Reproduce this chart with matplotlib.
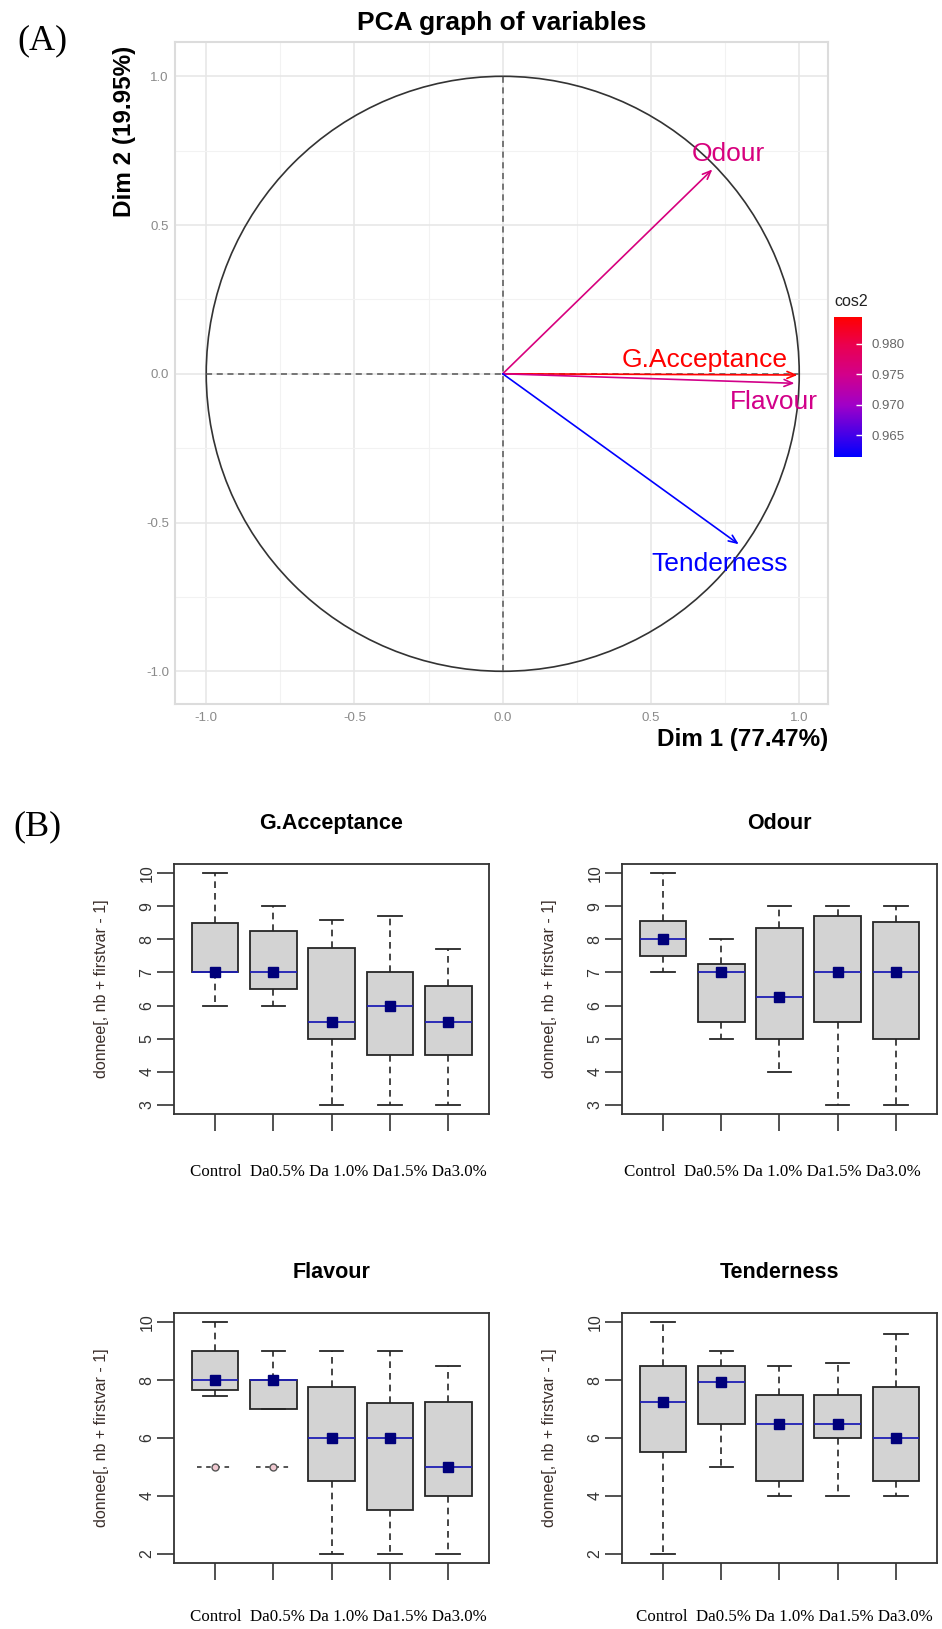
import numpy as np
import matplotlib
matplotlib.use("Agg")
import matplotlib.pyplot as plt
from matplotlib.colors import LinearSegmentedColormap, Normalize
from matplotlib.patches import Circle
import matplotlib.cm as cm

plt.rcParams['font.family'] = ['Liberation Sans', 'DejaVu Sans']

# ---------------- dados PCA ----------------
var_names = ['G.Acceptance', 'Odour', 'Flavour', 'Tenderness']
dim1 = [0.994, 0.707, 0.984, 0.796]
dim2 = [-0.004, 0.687, -0.032, -0.573]
cos2 = [0.9844, 0.9760, 0.9750, 0.9614]
lab_x = [0.680, 0.762, 0.916, 0.731]
lab_y = [0.047, 0.739, -0.096, -0.639]
cos2_ticks = [0.965, 0.970, 0.975, 0.980]

# ---------------- dados boxplot ----------------
groups = ['Control', 'Da0.5%', 'Da 1.0%', 'Da1.5%', 'Da3.0%']

acc_lo = [6, 6, 3, 3, 3]
acc_q1 = [7, 6.5, 5, 4.5, 4.5]
acc_med = [7, 7, 5.5, 6, 5.5]
acc_q3 = [8.5, 8.25, 7.75, 7, 6.6]
acc_hi = [10, 9, 8.6, 8.7, 7.7]
acc_pt = [7, 7, 5.5, 6, 5.5]

odo_lo = [7, 5, 4, 3, 3]
odo_q1 = [7.5, 5.5, 5, 5.5, 5]
odo_med = [8, 7, 6.25, 7, 7]
odo_q3 = [8.55, 7.25, 8.33, 8.7, 8.53]
odo_hi = [10, 8, 9, 9, 9]
odo_pt = [8, 7, 6.25, 7, 7]

fla_lo = [7.45, 7, 2, 2, 2]
fla_q1 = [7.67, 7, 4.5, 3.5, 4]
fla_med = [8, 8, 6, 6, 5]
fla_q3 = [9, 8, 7.75, 7.2, 7.25]
fla_hi = [10, 9, 9, 9, 8.5]
fla_pt = [8, 8, 6, 6, 5]
fla_out = [[5], [5], [], [], []]

ten_lo = [2, 5, 4, 4, 4]
ten_q1 = [5.5, 6.5, 4.5, 6, 4.5]
ten_med = [7.25, 7.95, 6.5, 6.5, 6]
ten_q3 = [8.5, 8.5, 7.5, 7.5, 7.75]
ten_hi = [10, 9, 8.5, 8.6, 9.6]
ten_pt = [7.25, 7.95, 6.5, 6.5, 6]
no_out = [[], [], [], [], []]

W, H = 942, 1629
fig = plt.figure(figsize=(W / 100, H / 100), dpi=100)
fig.patch.set_facecolor('white')


def add_ax(l, t, r, b):
    return fig.add_axes([l / W, 1 - b / H, (r - l) / W, (b - t) / H])


def ftext(x, y, s, **kw):
    return fig.text(x / W, 1 - y / H, s, **kw)


##################################################
# (A) PCA
##################################################
ax = add_ax(174.5, 41.5, 828, 704)
ax.set_xlim(-1.107, 1.097)
ax.set_ylim(-1.11, 1.117)
ax.set_xticks([-1.0, -0.5, 0.0, 0.5, 1.0])
ax.set_yticks([-1.0, -0.5, 0.0, 0.5, 1.0])
ax.set_xticks([-0.75, -0.25, 0.25, 0.75], minor=True)
ax.set_yticks([-0.75, -0.25, 0.25, 0.75], minor=True)
ax.set_xticklabels(['-1.0', '-0.5', '0.0', '0.5', '1.0'])
ax.set_yticklabels(['-1.0', '-0.5', '0.0', '0.5', '1.0'])
ax.tick_params(which='both', length=0, labelsize=9.5, labelcolor='#8a8a8a')
ax.tick_params(axis='x', pad=6)
ax.tick_params(axis='y', pad=4)
ax.grid(True, which='major', color='#e6e6e6', lw=1.1)
ax.grid(True, which='minor', color='#f2f2f2', lw=0.8)
ax.set_axisbelow(True)
for s in ax.spines.values():
    s.set_color('#dcdcdc')
    s.set_linewidth(1.5)

ax.add_patch(Circle((0, 0), 1, fill=False, ec='#333333', lw=1.2, zorder=3))
ax.plot([-1, 1], [0, 0], ls=(0, (4, 3)), color='#555555', lw=1.1, zorder=3)
ax.plot([0, 0], [-1, 1], ls=(0, (4, 3)), color='#555555', lw=1.1, zorder=3)

cmap = LinearSegmentedColormap.from_list('cos2', [(0, '#0000FF'), (0.37, '#A000C8'),
                                                  (0.59, '#D2008A'), (0.8, '#EA0050'),
                                                  (1, '#FF0000')])
norm = Normalize(min(cos2), max(cos2))

for i, nm in enumerate(var_names):
    c = cmap(norm(cos2[i]))
    ax.annotate('', xy=(dim1[i], dim2[i]), xytext=(0, 0),
                arrowprops=dict(arrowstyle='->,head_length=0.6,head_width=0.25',
                                color=c, lw=1.2, shrinkA=0, shrinkB=0), zorder=4)
    ax.text(lab_x[i], lab_y[i], nm, color=c, fontsize=19, ha='center', va='center', zorder=5)

ftext(502, 23, 'PCA graph of variables', fontsize=19, fontweight='bold', ha='center', va='center')
ftext(828, 740, 'Dim 1 (77.47%)', fontsize=17.5, fontweight='bold', ha='right', va='center')
ftext(125, 46, 'Dim 2 (19.95%)', fontsize=17.5, fontweight='bold', ha='center', va='top', rotation=90)
ftext(42, 41, '(A)', fontsize=26, family='Liberation Serif', ha='center', va='center')

# barra de cor
cax = add_ax(834, 317, 862, 457)
cb = fig.colorbar(cm.ScalarMappable(norm=norm, cmap=cmap), cax=cax)
cb.set_ticks(cos2_ticks)
cb.set_ticklabels(['%.3f' % t for t in cos2_ticks])
cb.outline.set_visible(False)
cax.tick_params(length=4, width=1, color='white', direction='in', labelsize=9.5,
                labelcolor='#666666', pad=7)
ftext(834, 301, 'cos2', fontsize=11.5, ha='left', va='center', color='#222222')

##################################################
# (B) boxplots
##################################################
ftext(37, 827, '(B)', fontsize=26, family='Liberation Serif', ha='center', va='center')

label_line = groups[0] + '  ' + ' '.join(groups[1:])

panels = [
    ('G.Acceptance', (174, 864, 489, 1114), acc_lo, acc_q1, acc_med, acc_q3, acc_hi, acc_pt, no_out,
     (2.72, 10.28), list(range(3, 11)), 338, 1172),
    ('Odour', (622, 864, 937, 1114), odo_lo, odo_q1, odo_med, odo_q3, odo_hi, odo_pt, no_out,
     (2.72, 10.28), list(range(3, 11)), 772, 1172),
    ('Flavour', (174, 1313, 489, 1563), fla_lo, fla_q1, fla_med, fla_q3, fla_hi, fla_pt, fla_out,
     (1.68, 10.32), [2, 4, 6, 8, 10], 338, 1617),
    ('Tenderness', (622, 1313, 937, 1563), ten_lo, ten_q1, ten_med, ten_q3, ten_hi, ten_pt, no_out,
     (1.68, 10.32), [2, 4, 6, 8, 10], 784, 1617),
]

for title, box, lo, q1, med, q3, hi, pt, outs, ylim, yt, tx, ty in panels:
    l, t, r, b = box
    bx = add_ax(l, t, r, b)
    stats = []
    for k in range(len(groups)):
        stats.append(dict(whislo=lo[k], q1=q1[k], med=med[k], q3=q3[k], whishi=hi[k],
                          fliers=outs[k], mean=pt[k]))
    pos = np.arange(1, len(groups) + 1)
    bx.bxp(stats, positions=pos, widths=0.8, capwidths=0.4, patch_artist=True,
           showmeans=True, showfliers=True,
           boxprops=dict(facecolor='#d3d3d3', edgecolor='#262626', lw=1.3),
           medianprops=dict(color='#1f1fb4', lw=1.3),
           whiskerprops=dict(color='#262626', lw=1.2, ls=(0, (4, 3))),
           capprops=dict(color='#262626', lw=1.3),
           meanprops=dict(marker='s', markerfacecolor='#00007a', markeredgecolor='#00007a',
                          markersize=7.5),
           flierprops=dict(marker='o', markerfacecolor='#f0c8d0', markeredgecolor='#555555',
                           markersize=5, markeredgewidth=1, zorder=4))
    # tracejado em volta dos outliers
    for k in range(len(groups)):
        for v in outs[k]:
            bx.plot([pos[k] - 0.3, pos[k] + 0.3], [v, v], ls=(0, (3, 3)), color='#262626',
                    lw=1.1, zorder=3)
    bx.set_xlim(0.3, 5.7)
    bx.set_ylim(*ylim)
    bx.set_xticks(pos)
    bx.set_xticklabels([''] * len(groups))
    bx.set_yticks(yt)
    bx.set_yticklabels([str(v) for v in yt])
    bx.tick_params(length=12, width=1.2, color='#333333', labelsize=11.5, labelcolor='#333333')
    bx.tick_params(axis='y', pad=2)
    plt.setp(bx.get_yticklabels(), rotation=90, va='center', ha='right')
    for s in bx.spines.values():
        s.set_color('#333333')
        s.set_linewidth(1.3)
    bx.set_ylabel('donnee[, nb + firstvar - 1]', fontsize=11.5, color='#3a2e2a')
    bx.yaxis.set_label_coords(-65 / (r - l), 0.5)
    ftext((l + r) / 2, t - 41, title, fontsize=15.5, fontweight='bold', ha='center', va='center')
    ftext(tx, ty, label_line, fontsize=12.2, family='Liberation Serif', ha='center', va='center')

fig.savefig('out.png', dpi=100)
